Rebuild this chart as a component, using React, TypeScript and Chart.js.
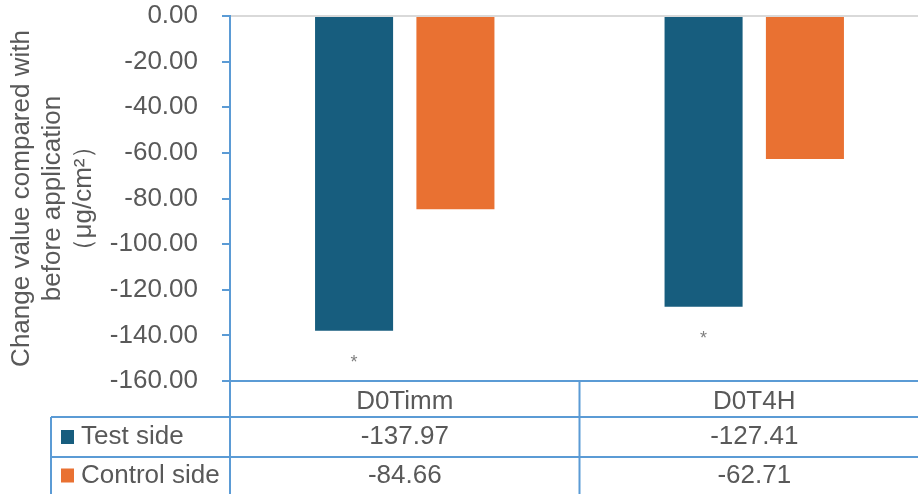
import React, { useEffect, useRef } from "react";
import { Chart, registerables } from "chart.js";

Chart.register(...registerables);

const categories = ["D0Timm", "D0T4H"];
const seriesNames = ["Test side", "Control side"];
const testSide = [-137.97, -127.41];
const controlSide = [-84.66, -62.71];
const significance = ["*", "*"];
const yTitle = ["Change value compared with", "before application", "（μg/cm²）"];
const yMin = -160;
const yMax = 0;
const yStep = 20;

const seriesColors = ["#175D7E", "#E97132"];
const lineBlue = "#5B9BD5";
const textGray = "#595959";
const FONT = "'Liberation Sans', Arial, sans-serif";
const FS = 26;
const CANVAS_W = 929;
const VIEW_W = 918;
const VIEW_H = 494;

const tablePlugin = {
  id: "dataTable",
  afterDraw(chart: any) {
    const { ctx, chartArea, scales } = chart;
    const x = scales.x;
    const H = chart.height;
    const W = chart.width;
    const top = chartArea.bottom;
    const headerH = 36;
    const rowH = 40;
    const tableLeft = 51;
    const row1Top = top + headerH;
    const row2Top = row1Top + rowH;
    const c0 = x.getPixelForValue(0);
    const c1 = x.getPixelForValue(1);
    ctx.save();
    ctx.strokeStyle = lineBlue;
    ctx.lineWidth = 2;
    ctx.beginPath();
    const vx = [chartArea.left, (c0 + c1) / 2, chartArea.right - 1];
    vx.forEach((vxi) => {
      ctx.moveTo(vxi, top);
      ctx.lineTo(vxi, H);
    });
    ctx.moveTo(tableLeft, row1Top);
    ctx.lineTo(tableLeft, H);
    ctx.moveTo(tableLeft, row1Top);
    ctx.lineTo(W, row1Top);
    ctx.moveTo(tableLeft, row2Top);
    ctx.lineTo(W, row2Top);
    ctx.stroke();

    ctx.font = `${FS}px ${FONT}`;
    ctx.textBaseline = "middle";
    const rows = [testSide, controlSide];
    const rowCenters = [row1Top + rowH / 2, row2Top + 37 / 2];
    rows.forEach((vals, r) => {
      const cy = rowCenters[r];
      ctx.fillStyle = seriesColors[r];
      ctx.fillRect(tableLeft + 10, cy - 7, 13, 14);
      ctx.fillStyle = textGray;
      ctx.textAlign = "left";
      ctx.fillText(seriesNames[r], tableLeft + 30, cy);
      ctx.textAlign = "center";
      vals.forEach((v, i) => {
        ctx.fillText(v.toFixed(2), x.getPixelForValue(i), cy);
      });
    });

    const meta = chart.getDatasetMeta(0);
    ctx.font = `18px ${FONT}`;
    ctx.fillStyle = "#7F7F7F";
    ctx.textAlign = "center";
    ctx.textBaseline = "middle";
    meta.data.forEach((el: any, i: number) => {
      ctx.fillText(significance[i], el.x, el.y + 32);
    });
    ctx.restore();
  },
};

export default function App() {
  const ref = useRef<HTMLCanvasElement | null>(null);
  useEffect(() => {
    document.body.style.margin = "0";
    const chart = new Chart(ref.current as HTMLCanvasElement, {
      type: "bar",
      data: {
        labels: categories,
        datasets: [
          {
            label: seriesNames[0],
            data: testSide,
            backgroundColor: seriesColors[0],
            categoryPercentage: 0.58,
            barPercentage: 0.77,
          },
          {
            label: seriesNames[1],
            data: controlSide,
            backgroundColor: seriesColors[1],
            categoryPercentage: 0.58,
            barPercentage: 0.77,
          },
        ],
      },
      options: {
        animation: false,
        responsive: false,
        maintainAspectRatio: false,
        layout: { padding: { top: 16, right: 0, left: 0, bottom: 0 } },
        plugins: {
          legend: { display: false },
          tooltip: { enabled: false },
        },
        scales: {
          x: {
            grid: { display: false, drawTicks: false },
            border: { display: true, color: lineBlue, width: 2 },
            ticks: {
              color: textGray,
              font: { family: FONT, size: FS },
              padding: 5,
            },
            afterFit: (s: any) => {
              s.height = 113;
              s.paddingLeft = 0;
              s.paddingRight = 0;
            },
          },
          y: {
            min: yMin,
            max: yMax,
            ticks: {
              stepSize: yStep,
              color: textGray,
              font: { family: FONT, size: FS },
              padding: 24,
              callback: (v: any) => Number(v).toFixed(2),
            },
            grid: {
              color: (c: any) => (c.tick && c.tick.value === 0 ? "#D9D9D9" : "rgba(0,0,0,0)"),
              lineWidth: 2,
              tickColor: lineBlue,
              tickWidth: 2,
              tickLength: 8,
              drawTicks: true,
            },
            border: { display: true, color: lineBlue, width: 2 },
            title: {
              display: true,
              text: yTitle,
              color: textGray,
              font: { family: FONT, size: 26, lineHeight: 1.2 },
              padding: { top: 6, bottom: 0 },
            },
            afterFit: (s: any) => {
              s.width = 230;
              s.paddingTop = 0;
              s.paddingBottom = 0;
            },
          },
        },
      },
      plugins: [tablePlugin],
    });
    return () => chart.destroy();
  }, []);
  return (
    <div style={{ position: "absolute", left: 0, top: 0, width: VIEW_W, height: VIEW_H, overflow: "hidden" }}>
      <canvas ref={ref} width={CANVAS_W} height={VIEW_H} style={{ width: CANVAS_W, height: VIEW_H, display: "block" }} />
    </div>
  );
}
